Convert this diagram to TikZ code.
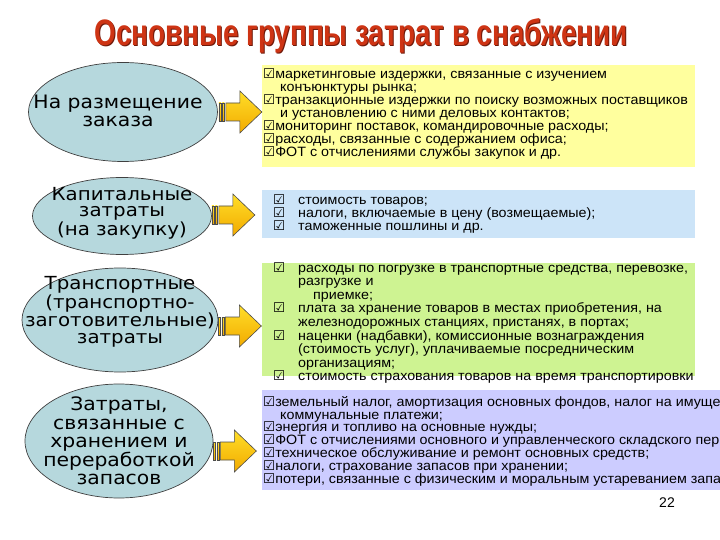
\documentclass[tikz,border=0pt]{standalone}
\usepackage{fontspec}
\setmainfont{Liberation Sans}
\newfontfamily\listfont[FakeStretch=1.06]{Liberation Sans}
\newfontfamily\ellfont[FakeStretch=1.1]{DejaVu Sans}
\newfontfamily\symfont{DejaVu Sans}
\usetikzlibrary{positioning,shapes.geometric}
\definecolor{titlered}{RGB}{206,52,20}
\definecolor{titleshade}{RGB}{110,25,10}
\definecolor{ellfill}{RGB}{182,216,221}
\definecolor{yellowbox}{RGB}{255,255,158}
\definecolor{bluebox}{RGB}{204,228,248}
\definecolor{greenbox}{RGB}{206,243,146}
\definecolor{lilacbox}{RGB}{204,204,255}
\definecolor{arrowtop}{RGB}{255,222,40}
\definecolor{arrowbot}{RGB}{242,170,0}
\newcommand{\chk}{{\symfont\fontsize{13.5}{13}\selectfont ☑}}
\newcommand{\chkt}{\makebox[25pt][l]{\chk}}
\tikzset{
  group/.style={ellipse, draw=black!75, line width=0.7pt, fill=ellfill, inner sep=0pt},
  grouptext/.style={inner sep=0pt, align=center, font=\ellfont\fontsize{18.5}{18.5}\selectfont},
  costbox/.style={rectangle, draw=none, inner sep=0pt, anchor=north west},
  costlist/.style={inner sep=0pt, anchor=north west, align=left,
    font=\listfont\fontsize{13.5}{13}\selectfont},
  arrowbody/.style={draw=black!70, line width=0.6pt, top color=arrowtop, bottom color=arrowbot},
  pics/fatarrow/.style={code={
    \draw[arrowbody] (0,-9) rectangle (2,9);
    \draw[arrowbody] (3.5,-9) rectangle (5.5,9);
    \draw[arrowbody] (7,-9) -- (21,-9) -- (21,-21) -- (43,0) -- (21,21) -- (21,9) -- (7,9) -- cycle;
  }}
}
\begin{document}
\begin{tikzpicture}[x=1pt,y=-1pt]
  \useasboundingbox (0,0) rectangle (720,540);
  \clip (0,0) rectangle (720,540);

  % Title
  \node[text=titleshade, anchor=base] at (362,47)
    {\resizebox{533pt}{27pt}{\bfseries Основные группы затрат в снабжении}};
  \node[text=titlered, anchor=base] (title) at (361,46)
    {\resizebox{533pt}{27pt}{\bfseries Основные группы затрат в снабжении}};

  % Cost groups
  \node[group, minimum width=189pt, minimum height=99pt] (order) at (123,112) {};
  \node[group, minimum width=179pt, minimum height=77pt] (capital) at (122,216) {};
  \node[group, minimum width=196pt, minimum height=104pt] (transport) at (120,320) {};
  \node[group, minimum width=188pt, minimum height=114pt] (storage) at (119,441) {};
  \node[grouptext] (ordertext) at (118,111) {На размещение\\заказа};
  \node[grouptext, font=\ellfont\fontsize{18}{16.8}\selectfont] (capitaltext) at ([yshift=3pt]capital) {Капитальные\\затраты\\(на закупку)};
  \node[grouptext, font=\ellfont\fontsize{18}{16.8}\selectfont] (transporttext) at ([yshift=8pt]transport) {Транспортные\\(транспортно-\\заготовительные)\\затраты};
  \node[grouptext] (storagetext) at (storage) {Затраты,\\связанные с\\хранением и\\переработкой\\запасов};

  % Boxes
  \node[costbox, fill=yellowbox, minimum width=433pt, minimum height=102pt] (b1) at (262,65) {};
  \node[costbox, fill=bluebox, minimum width=433pt, minimum height=48pt] (b2) at (262,190) {};
  \node[costbox, fill=greenbox, minimum width=433pt, minimum height=113pt] (b3) at (262,263) {};
  \node[costbox, fill=lilacbox, minimum width=470pt, minimum height=100pt] (b4) at (262,390) {};

  % Arrows
  \pic at ([xshift=1pt]order.east) {fatarrow};
  \pic at ([yshift=1pt]capital.east) {fatarrow};
  \pic at ([yshift=-6pt]transport.east) {fatarrow};
  \pic at ([yshift=-10pt]storage.east) {fatarrow};

  % Lists
  \node[costlist] (l1) at (263,68) {%
    \chk маркетинговые издержки, связанные с изучением\\
    \hspace*{17pt}конъюнктуры рынка;\\
    \chk транзакционные издержки по поиску возможных поставщиков\\
    \hspace*{17pt}и установлению с ними деловых контактов;\\
    \chk мониторинг поставок, командировочные расходы;\\
    \chk расходы, связанные с содержанием офиса;\\
    \chk ФОТ с отчислениями службы закупок и др.};
  \node[costlist] (l2) at (273,194) {%
    \chkt стоимость товаров;\\
    \chkt налоги, включаемые в цену (возмещаемые);\\
    \chkt таможенные пошлины и др.};
  \node[costlist, font=\listfont\fontsize{13.5}{13.6}\selectfont] (l3) at (273,262) {%
    \chkt расходы по погрузке в транспортные средства, перевозке,\\
    \hspace*{25pt}разгрузке и\\
    \hspace*{40pt}приемке;\\
    \chkt плата за хранение товаров в местах приобретения, на\\
    \hspace*{25pt}железнодорожных станциях, пристанях, в портах;\\
    \chkt наценки (надбавки), комиссионные вознаграждения\\
    \hspace*{25pt}(стоимость услуг), уплачиваемые посредническим\\
    \hspace*{25pt}организациям;\\
    \chkt стоимость страхования товаров на время транспортировки};
  \node[costlist, font=\listfont\fontsize{13.5}{12.8}\selectfont] (l4) at (263,396) {%
    \chk земельный налог, амортизация основных фондов, налог на имуще\\
    \hspace*{17pt}коммунальные платежи;\\
    \chk энергия и топливо на основные нужды;\\
    \chk ФОТ с отчислениями основного и управленческого складского пер\\
    \chk техническое обслуживание и ремонт основных средств;\\
    \chk налоги, страхование запасов при хранении;\\
    \chk потери, связанные с физическим и моральным устареванием запа};

  % Page number
  \node[font=\fontsize{14}{14}\selectfont] (page) at (667,503) {22};
\end{tikzpicture}
\end{document}
